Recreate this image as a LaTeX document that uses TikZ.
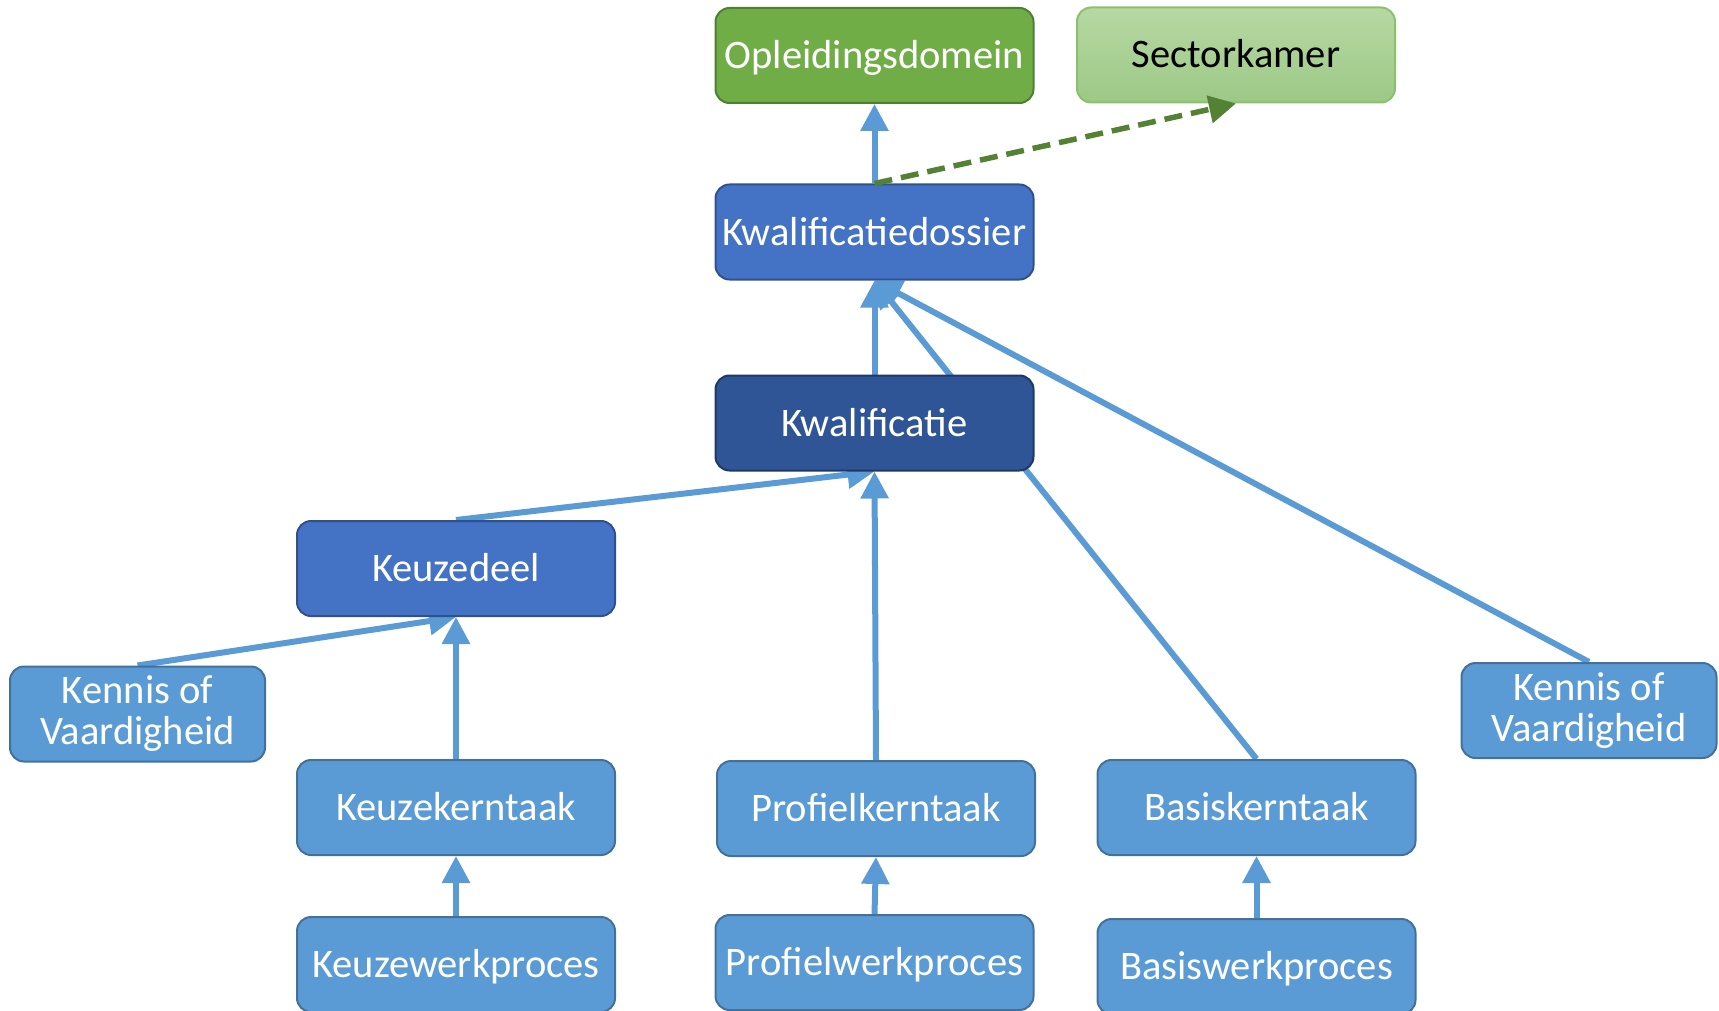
\documentclass[tikz,border=0pt]{standalone}
\usepackage{fontspec}
\setmainfont{Carlito}
\usetikzlibrary{arrows.meta}
\pgfdeclarelayer{background}
\pgfsetlayers{background,main}
\definecolor{lblue}{HTML}{5B9BD5}
\definecolor{lblueb}{HTML}{41719C}
\definecolor{mblue}{HTML}{4472C4}
\definecolor{mblueb}{HTML}{2F528F}
\definecolor{dblue}{HTML}{2F5597}
\definecolor{dblueb}{HTML}{203864}
\definecolor{gfill}{HTML}{70AD47}
\definecolor{gborder}{HTML}{507E32}
\definecolor{lgtop}{HTML}{B7D8A4}
\definecolor{lgbot}{HTML}{9CC986}
\definecolor{lgborder}{HTML}{8CC06D}
\definecolor{dashg}{HTML}{548235}
\tikzset{
  box/.style={rounded corners=14pt, line width=2pt, minimum width=318pt, minimum height=95pt,
    inner sep=0pt, align=center, text=white, font=\fontsize{40.5}{41}\selectfont},
  one/.style={text height=30pt, text depth=4pt},
  lb/.style={box, fill=lblue, draw=lblueb},
  mb/.style={box, one, fill=mblue, draw=mblueb},
  db/.style={box, one, fill=dblue, draw=dblueb},
  kv/.style={lb, minimum width=255pt},
  conn/.style={draw=lblue, line width=6pt, -{Triangle[width=27pt,length=27pt]}},
  dconn/.style={draw=dashg, line width=5.5pt, dash pattern=on 18pt off 9pt, -{Triangle[width=27pt,length=27pt]}}
}
\begin{document}
\begin{tikzpicture}[x=1pt,y=-1pt]
\useasboundingbox (0,0) rectangle (1719,1011);
\clip (0,0) rectangle (1719,1011);
\node[box, one, fill=gfill, draw=gborder] (opl) at (874.5,55.5) {Opleidingsdomein};
\node[box, one, top color=lgtop, bottom color=lgbot, draw=lgborder, text=black] (sec) at (1236,55) {Sectorkamer};
\node[mb] (kd) at (874.5,232) {Kwalificatiedossier};
\node[db] (kwal) at (874.5,423) {Kwalificatie};
\node[mb] (kzd) at (456,568.5) {Keuzedeel};
\node[kv] (kvl) at (137.5,714) {Kennis of\\Vaardigheid};
\node[kv] (kvr) at (1589,710.5) {Kennis of\\Vaardigheid};
\node[lb, one] (kzk) at (456,807.5) {Keuzekerntaak};
\node[lb, one] (pk) at (876,808.5) {Profielkerntaak};
\node[lb, one] (bk) at (1256.5,807.5) {Basiskerntaak};
\node[lb, one] (kzw) at (456,964.5) {Keuzewerkproces};
\node[lb, one] (pw) at (874.5,962.5) {Profielwerkproces};
\node[lb, one] (bw) at (1256.5,966.5) {Basiswerkproces};
\begin{pgfonlayer}{background}
\draw[conn] (kd.north) -- (opl.south);
\draw[conn] (kwal.north) -- (kd.south);
\draw[conn] (bk.north) -- (kd.south);
\draw[conn] (kvr.north) -- (kd.south);
\draw[conn] (kzd.north) -- (kwal.south);
\draw[conn] (pk.north) -- (kwal.south);
\draw[conn] (kvl.north) -- (kzd.south);
\draw[conn] (kzk.north) -- (kzd.south);
\draw[conn] (kzw.north) -- (kzk.south);
\draw[conn] (pw.north) -- (pk.south);
\draw[conn] (bw.north) -- (bk.south);
\end{pgfonlayer}
\draw[dconn] (kd.north) -- (sec.south);
\end{tikzpicture}
\end{document}
